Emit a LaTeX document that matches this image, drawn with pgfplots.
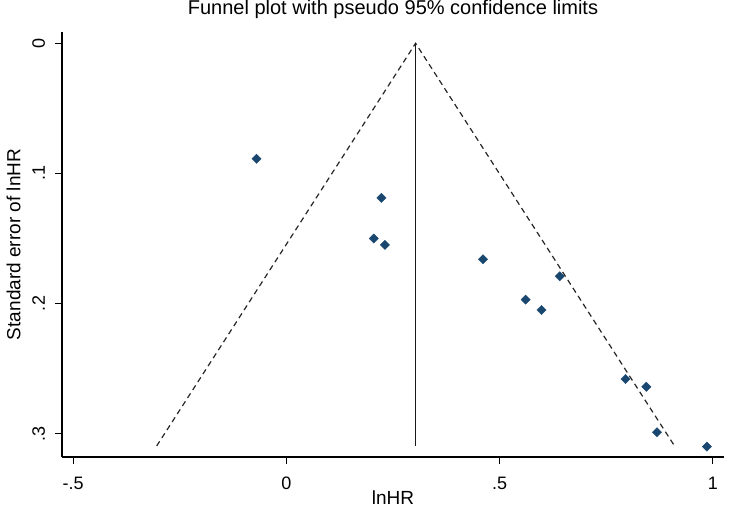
\documentclass[border=0pt]{standalone}
\usepackage{fontspec}
\setmainfont{Liberation Sans}
\usepackage{pgfplots}
\pgfplotsset{compat=1.18}
\definecolor{statanavy}{RGB}{26,71,111}

\begin{document}
\begin{tikzpicture}
\begin{axis}[
    at={(0,0)}, anchor=south west,
    scale only axis,
    width=662pt, height=425pt,
    xmin=-0.526, xmax=1.026,
    ymin=-0.0087, ymax=0.318,
    y dir=reverse,
    axis lines=left,
    axis line style={-, line width=1.1pt},
    tick align=outside,
    major tick length=7pt,
    tick style={line width=1pt, black},
    xtick={-0.5,0,0.5,1},
    xticklabels={-.5,0,.5,1},
    ytick={0,0.1,0.2,0.3},
    yticklabels={0,.1,.2,.3},
    /pgf/number format/assume math mode=true,
    tick label style={font=\fontsize{18}{21}\selectfont},
    yticklabel style={rotate=90, anchor=south, inner sep=0pt, outer sep=0pt, outer ysep=10pt},
    xticklabel style={anchor=north, inner sep=0pt, yshift=-13pt},
    xlabel={lnHR},
    ylabel={Standard error of lnHR},
    label style={font=\fontsize{19}{22}\selectfont},
    xlabel style={at={(0.5,0)}, anchor=center, yshift=-41pt},
    ylabel style={at={(0,0.5)}, anchor=center, yshift=48.5pt},
    title={Funnel plot with pseudo 95\% confidence limits},
    title style={font=\fontsize{20}{24}\selectfont, at={(0.5,1)}, anchor=south, inner sep=0pt, yshift=7pt},
    clip=false,
]
\addplot[black!85, line width=1.2pt, dash pattern=on 5.5pt off 4pt] coordinates {(-0.304,0.3095) (0.303,0) (0.910,0.3095)};
\addplot[black!90, line width=1.4pt] coordinates {(0.303,0) (0.303,0.3095)};
\addplot[only marks, mark=square*, mark size=3.3pt, color=statanavy, mark options={rotate=45, fill=statanavy, draw=statanavy, line width=0.3pt}] coordinates {
    (-0.070,0.0888)
    (0.223,0.1188)
    (0.205,0.150)
    (0.231,0.155)
    (0.461,0.166)
    (0.641,0.179)
    (0.561,0.197)
    (0.598,0.205)
    (0.795,0.258)
    (0.844,0.264)
    (0.869,0.299)
    (0.986,0.310)
};
\end{axis}
\pgfresetboundingbox
\path[use as bounding box] (-62pt,-54pt) rectangle (669pt,457pt);
\end{tikzpicture}
\end{document}
